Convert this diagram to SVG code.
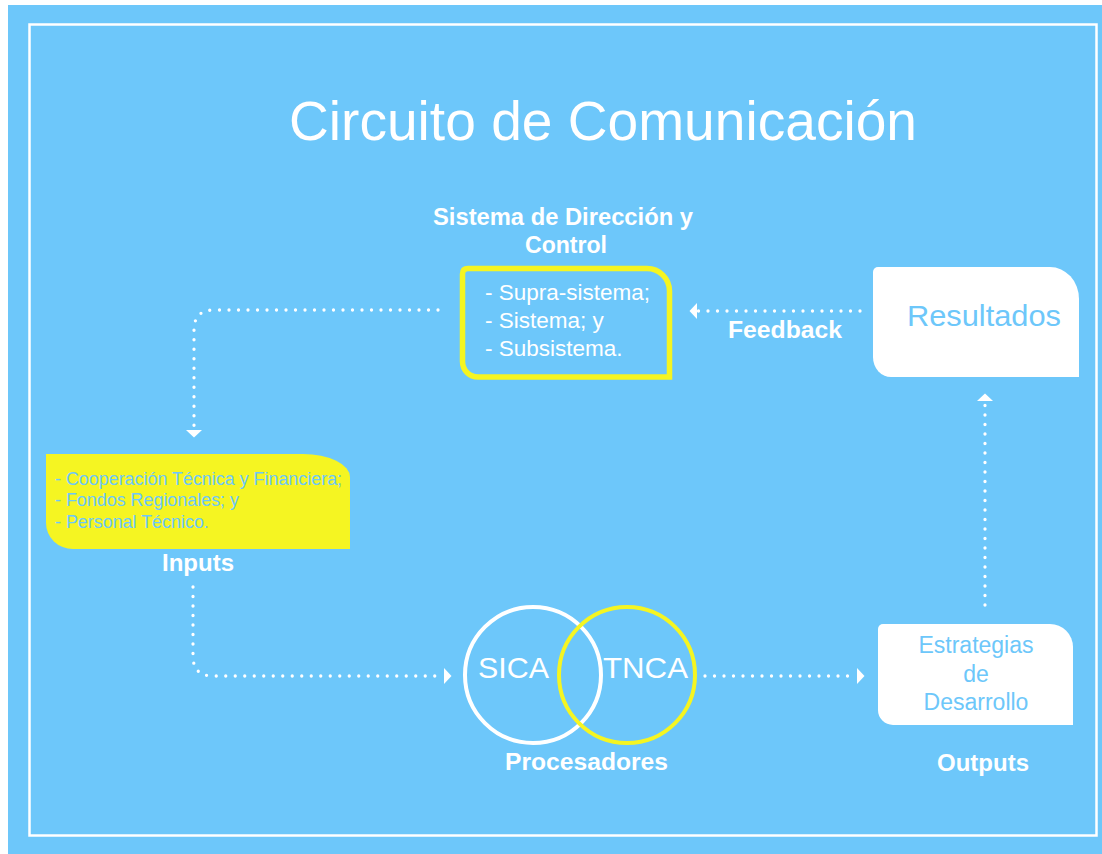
<svg xmlns="http://www.w3.org/2000/svg" width="1102" height="854" viewBox="0 0 1102 854">
<defs>
<style>
.bg{fill:#6DC7FA}
.frame{fill:none;stroke:#FFFFFF;stroke-width:2.5}
.t{font-family:"Liberation Sans",Arial,sans-serif;fill:#FFFFFF}
.b{font-family:"Liberation Sans",Arial,sans-serif;font-weight:bold;fill:#FFFFFF;font-size:23px}
.lb{font-family:"Liberation Sans",Arial,sans-serif;fill:#6DC7FA}
.dot{fill:none;stroke:#FFFFFF;stroke-width:3.3;stroke-linecap:round;stroke-dasharray:0 9.5}
.wbox{fill:#FFFFFF}
</style>
<marker id="ah" markerUnits="userSpaceOnUse" markerWidth="8" markerHeight="16" refX="0" refY="8" orient="auto" viewBox="0 0 8 16">
<path d="M0 0 L7.5 8 L0 16 Z" fill="#FFFFFF"/>
</marker>
</defs>
<rect x="0" y="0" width="1102" height="854" fill="#FFFFFF"/>
<rect class="bg" x="8" y="5" width="1094" height="849"/>
<rect class="frame" x="29.5" y="24.5" width="1067" height="811"/>
<text class="t" x="289" y="140" font-size="55" textLength="628" lengthAdjust="spacingAndGlyphs">Circuito de Comunicación</text>

<g id="connectors">
<path class="dot" d="M438 310 H214 Q194 310 194 330 V430" marker-end="url(#ah)"/>
<path class="dot" d="M860 311 H697" marker-end="url(#ah)"/>
<path class="dot" d="M193 587 V656 Q193 676 213 676 H444" marker-end="url(#ah)"/>
<path class="dot" d="M705 676 H857" marker-end="url(#ah)"/>
<path class="dot" d="M985 605 V401" marker-end="url(#ah)"/>
</g>

<g id="sistema">
<text class="b" x="433" y="225" textLength="260" lengthAdjust="spacingAndGlyphs">Sistema de Dirección y</text>
<text class="b" x="525" y="253" textLength="82" lengthAdjust="spacingAndGlyphs">Control</text>
<path d="M462.5 274 Q462.5 268.5 468 268.5 H647 A22.5 22.5 0 0 1 669.5 291 V377 H478 A15.5 15.5 0 0 1 462.5 361.5 Z" fill="none" stroke="#F5F522" stroke-width="5.5"/>
<text class="t" font-size="22.5"><tspan x="485" y="300">- Supra-sistema;</tspan><tspan x="485" y="328">- Sistema; y</tspan><tspan x="485" y="356">- Subsistema.</tspan></text>
</g>

<g id="feedback">
<text class="b" x="728" y="338" textLength="114" lengthAdjust="spacingAndGlyphs">Feedback</text>
</g>

<g id="resultados">
<path class="wbox" d="M873 272 A5 5 0 0 1 878 267 H1050 A29 32 0 0 1 1079 299 V377 H891 A18 20 0 0 1 873 357 Z"/>
<text class="lb" x="907" y="326" font-size="30" textLength="154" lengthAdjust="spacingAndGlyphs">Resultados</text>
</g>

<g id="inputs">
<path d="M46 454 H303 A47 23 0 0 1 350 477 V549 H73 A27 26 0 0 1 46 523 Z" fill="#F5F522"/>
<text class="lb" font-size="17.9"><tspan x="55" y="485">- Cooperación Técnica y Financiera;</tspan><tspan x="55" y="506">- Fondos Regionales; y</tspan><tspan x="55" y="528">- Personal Técnico.</tspan></text>
<text class="b" x="162" y="571" textLength="72" lengthAdjust="spacingAndGlyphs">Inputs</text>
</g>

<g id="procesadores">
<circle cx="533" cy="675" r="68" fill="none" stroke="#FFFFFF" stroke-width="4"/>
<circle cx="627" cy="675" r="68" fill="none" stroke="#F5F522" stroke-width="4"/>
<text class="t" x="478" y="678" font-size="30" textLength="71" lengthAdjust="spacingAndGlyphs">SICA</text>
<text class="t" x="603" y="678" font-size="30" textLength="85" lengthAdjust="spacingAndGlyphs">TNCA</text>
<text class="b" x="505" y="770" textLength="163" lengthAdjust="spacingAndGlyphs">Procesadores</text>
</g>

<g id="outputs">
<path class="wbox" d="M878 629 A5 5 0 0 1 883 624 H1050 A23 23 0 0 1 1073 647 V725 H893 A15 15 0 0 1 878 710 Z"/>
<text class="lb" font-size="23" text-anchor="middle"><tspan x="976" y="653">Estrategias</tspan><tspan x="976" y="682">de</tspan><tspan x="976" y="710">Desarrollo</tspan></text>
<text class="b" x="937" y="771" textLength="92" lengthAdjust="spacingAndGlyphs">Outputs</text>
</g>
</svg>
